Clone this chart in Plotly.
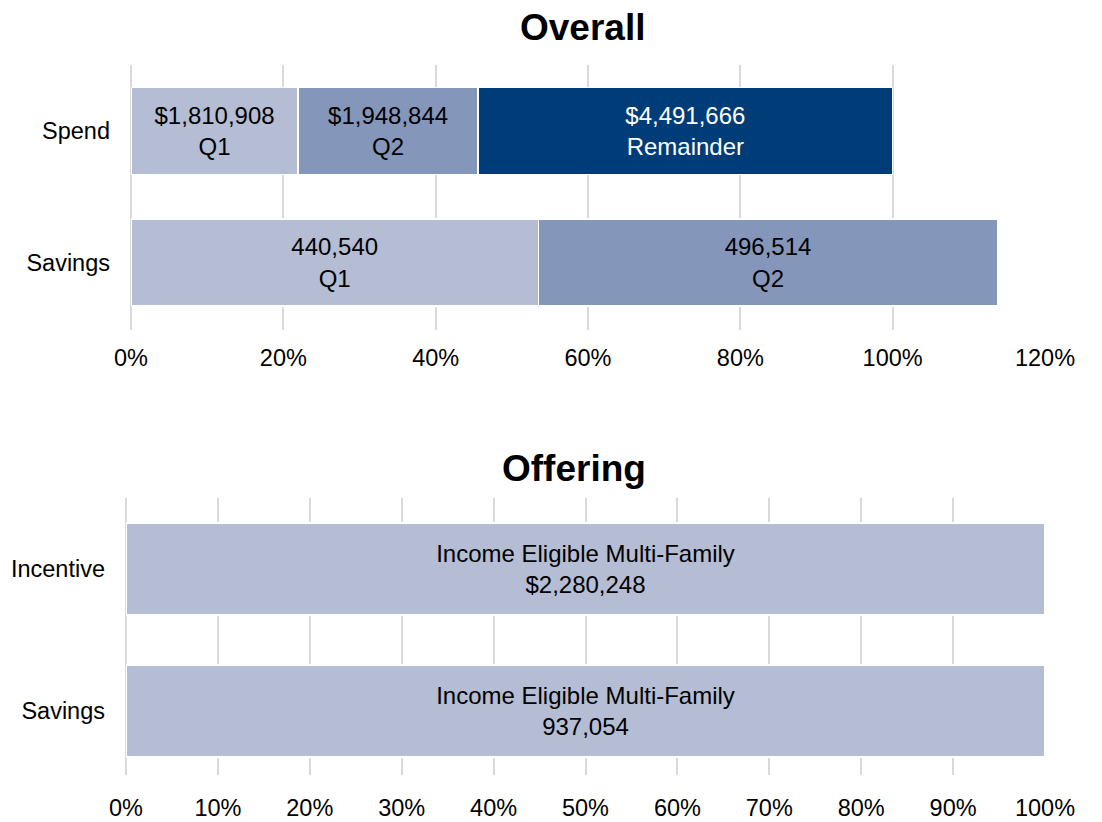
import plotly.graph_objects as go

# ---------------- data ----------------
overall_categories = ["Savings", "Spend"]          # bottom -> top
period_labels = ["Q1", "Q2", "Remainder"]
spend_values = [1810908, 1948844, 4491666]          # Q1, Q2, Remainder
savings_values = [440540, 496514]                   # Q1, Q2
savings_goal = 823600                               # estimated goal (100%)
spend_goal = sum(spend_values)

offering_categories = ["Savings", "Incentive"]      # bottom -> top
offering_names = ["Income Eligible Multi-Family"]
offering_incentive = [2280248]
offering_savings = [937054]

top_ticks = [0, 0.2, 0.4, 0.6, 0.8, 1.0, 1.2]
top_ticktext = ["0%", "20%", "40%", "60%", "80%", "100%", "120%"]
bottom_ticks = [i / 10 for i in range(11)]
bottom_ticktext = [f"{i * 10}%" for i in range(11)]

colors = ["#B4BDD3", "#8596BB", "#003D78"]
text_colors = ["#000000", "#000000", "#FFFFFF"]

FONT = "Liberation Sans, Arial, sans-serif"
FS = 23.5
BFS = 24
W, H = 1102, 822
OX, OY = 8, 8   # page body offset compensation (px)


def px_x(p):
    return (p - OX) / W


def px_y(p):
    return 1 - (p - OY) / H


fig = go.Figure()

# ---------------- Overall (top) ----------------
for i, lab in enumerate(period_labels):
    ys, xs, texts = [], [], []
    if i < len(spend_values):
        ys.append("Spend")
        xs.append(spend_values[i] / spend_goal)
        texts.append(f"${spend_values[i]:,}<br>{lab}")
    if i < len(savings_values):
        ys.append("Savings")
        xs.append(savings_values[i] / savings_goal)
        texts.append(f"{savings_values[i]:,}<br>{lab}")
    fig.add_trace(go.Bar(
        y=ys, x=xs, orientation="h", name=lab, text=texts,
        textposition="inside", insidetextanchor="middle",
        constraintext="none", textangle=0,
        textfont=dict(family=FONT, size=BFS, color=text_colors[i]),
        marker=dict(color=colors[i], line=dict(color="#FFFFFF", width=1.5)),
        width=0.66, xaxis="x", yaxis="y", showlegend=False,
        hoverinfo="skip",
    ))

# ---------------- Offering (bottom) ----------------
for j, name in enumerate(offering_names):
    inc_total = sum(offering_incentive)
    sav_total = sum(offering_savings)
    fig.add_trace(go.Bar(
        y=["Incentive", "Savings"],
        x=[offering_incentive[j] / inc_total, offering_savings[j] / sav_total],
        orientation="h", name=name,
        text=[f"{name}<br>${offering_incentive[j]:,}",
              f"{name}<br>{offering_savings[j]:,}"],
        textposition="inside", insidetextanchor="middle",
        constraintext="none", textangle=0,
        textfont=dict(family=FONT, size=BFS, color="#000000"),
        marker=dict(color=colors[0], line=dict(color="#FFFFFF", width=1.5)),
        width=0.65, xaxis="x2", yaxis="y2", showlegend=False,
        hoverinfo="skip",
    ))

grid = "#D9D9D9"
axis_common = dict(showgrid=True, gridcolor=grid, gridwidth=2,
                   zeroline=True, zerolinecolor=grid, zerolinewidth=2,
                   showline=False, ticks="", fixedrange=True, automargin=False,
                   tickfont=dict(family=FONT, size=FS, color="#000000"))
yaxis_common = dict(type="category", categoryorder="array",
                    showgrid=False, zeroline=False, showline=False, ticks="",
                    ticklabelstandoff=20, fixedrange=True, automargin=False,
                    tickfont=dict(family=FONT, size=FS, color="#000000"))

fig.update_layout(
    width=W, height=H, autosize=False,
    margin=dict(l=0, r=0, t=0, b=0, pad=0, autoexpand=False),
    paper_bgcolor="white", plot_bgcolor="white",
    barmode="stack",
    font=dict(family=FONT, size=FS, color="#000000"),
    xaxis=dict(domain=[px_x(131), px_x(1045)], range=[0, 1.2],
               tickvals=top_ticks, ticktext=top_ticktext,
               anchor="y", ticklabelstandoff=11, **axis_common),
    yaxis=dict(domain=[px_y(330), px_y(65)], range=[-0.513, 1.502],
               categoryarray=overall_categories, anchor="x", **yaxis_common),
    xaxis2=dict(domain=[px_x(126), px_x(1045)], range=[0, 1.0],
                tickvals=bottom_ticks, ticktext=bottom_ticktext,
                anchor="y2", ticklabelstandoff=16, **axis_common),
    yaxis2=dict(domain=[px_y(775), px_y(498)], range=[-0.45, 1.5],
                categoryarray=offering_categories, anchor="x2", **yaxis_common),
    annotations=[
        dict(text="<b>Overall</b>", x=px_x(582.5), y=px_y(27),
             xref="paper", yref="paper", xanchor="center", yanchor="middle",
             showarrow=False, font=dict(family=FONT, size=37, color="#000000")),
        dict(text="<b>Offering</b>", x=px_x(574), y=px_y(468),
             xref="paper", yref="paper", xanchor="center", yanchor="middle",
             showarrow=False, font=dict(family=FONT, size=37, color="#000000")),
    ],
)

fig.write_html("out.html")
